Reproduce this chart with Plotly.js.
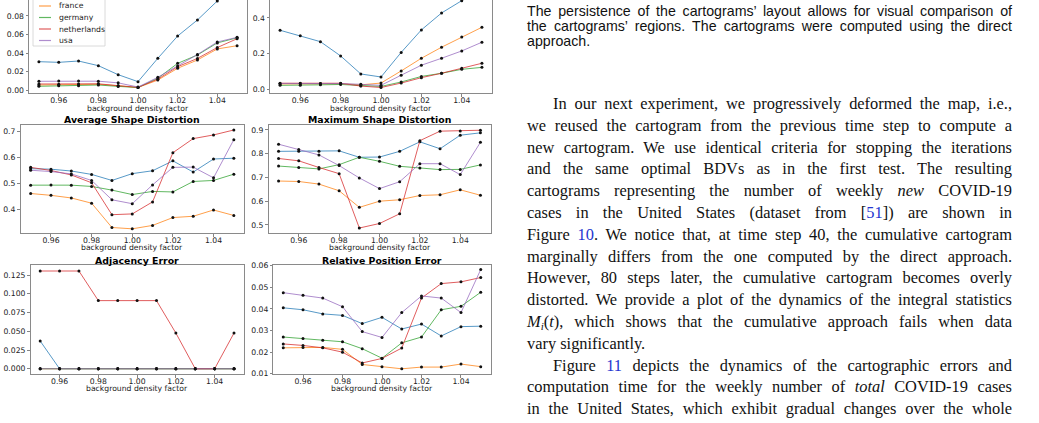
<!DOCTYPE html>
<html><head><meta charset="utf-8">
<script src="https://cdn.plot.ly/plotly-3.0.1.min.js"></script>
<style>
html,body{margin:0;padding:0;background:#fff;}
body{width:1039px;height:423px;overflow:hidden;position:relative;}
#plot{position:absolute;left:0;top:-30px;width:500px;height:453px;}
.cap{position:absolute;left:527px;width:485px;font-family:"Liberation Sans",Arial,sans-serif;font-size:14.2px;line-height:15px;height:15px;color:#111;overflow:visible;}
.bd{position:absolute;left:527px;width:485px;font-family:"Liberation Serif","Times New Roman",serif;font-size:16.4px;line-height:20px;height:20px;color:#111;overflow:visible;}
.j{text-align:justify;text-align-last:justify;}
.ind{left:553px;width:459px;}
.ref{color:#2536d0;}
</style></head>
<body>
<div id="plot"></div>
<div id="text"></div>
<script>
// ---------------- data ----------------
const bdf = [0.95, 0.96, 0.97, 0.98, 0.99, 1.00, 1.01, 1.02, 1.03, 1.04, 1.05];
const seriesNames = ['china', 'france', 'germany', 'netherlands', 'usa'];
const seriesColors = ['rgba(31,119,180,0.75)', 'rgba(255,127,14,0.75)', 'rgba(44,160,44,0.75)', 'rgba(214,39,40,0.75)', 'rgba(148,103,189,0.75)'];
const panelTitles = ['', '', 'Average Shape Distortion', 'Maximum Shape Distortion', 'Adjacency Error', 'Relative Position Error'];
const xLabel = 'background density factor';

// panel 1 (top left)
const p1_china       = [0.0308, 0.0301, 0.0315, 0.0265, 0.0168, 0.0093, 0.0344, 0.0584, 0.0757, 0.0961, 0.1150];
const p1_france      = [0.0057, 0.0058, 0.0060, 0.0065, 0.0048, 0.0030, 0.0110, 0.0237, 0.0326, 0.0445, 0.0480];
const p1_germany     = [0.0043, 0.0048, 0.0050, 0.0057, 0.0042, 0.0030, 0.0130, 0.0290, 0.0380, 0.0510, 0.0565];
const p1_netherlands = [0.0068, 0.0066, 0.0068, 0.0070, 0.0050, 0.0032, 0.0120, 0.0254, 0.0343, 0.0460, 0.0555];
const p1_usa         = [0.0097, 0.0100, 0.0100, 0.0098, 0.0080, 0.0035, 0.0140, 0.0262, 0.0385, 0.0520, 0.0570];

// panel 2 (top right)
const p2_china       = [0.331, 0.301, 0.267, 0.187, 0.086, 0.069, 0.207, 0.333, 0.428, 0.497, 0.570];
const p2_france      = [0.030, 0.031, 0.030, 0.031, 0.025, 0.035, 0.103, 0.174, 0.236, 0.293, 0.348];
const p2_germany     = [0.022, 0.022, 0.025, 0.027, 0.020, 0.016, 0.041, 0.072, 0.090, 0.112, 0.123];
const p2_netherlands = [0.034, 0.034, 0.033, 0.034, 0.018, 0.010, 0.035, 0.065, 0.090, 0.118, 0.146];
const p2_usa         = [0.033, 0.033, 0.033, 0.032, 0.028, 0.022, 0.079, 0.135, 0.174, 0.215, 0.264];

// panel 3 Average Shape Distortion
const p3_china       = [0.557, 0.555, 0.548, 0.535, 0.512, 0.538, 0.549, 0.587, 0.544, 0.594, 0.597];
const p3_france      = [0.462, 0.455, 0.445, 0.425, 0.332, 0.327, 0.340, 0.370, 0.375, 0.399, 0.378];
const p3_germany     = [0.494, 0.495, 0.494, 0.489, 0.475, 0.458, 0.470, 0.468, 0.508, 0.512, 0.536];
const p3_netherlands = [0.562, 0.550, 0.533, 0.503, 0.381, 0.384, 0.430, 0.618, 0.672, 0.686, 0.705];
const p3_usa         = [0.551, 0.546, 0.537, 0.512, 0.438, 0.423, 0.495, 0.562, 0.563, 0.522, 0.668];

// panel 4 Maximum Shape Distortion
const p4_china       = [0.810, 0.810, 0.810, 0.812, 0.785, 0.786, 0.810, 0.850, 0.821, 0.878, 0.888];
const p4_france      = [0.685, 0.683, 0.672, 0.644, 0.574, 0.600, 0.606, 0.624, 0.627, 0.648, 0.625];
const p4_germany     = [0.748, 0.742, 0.736, 0.754, 0.785, 0.768, 0.747, 0.740, 0.733, 0.734, 0.753];
const p4_netherlands = [0.780, 0.770, 0.742, 0.716, 0.487, 0.506, 0.547, 0.855, 0.895, 0.896, 0.899];
const p4_usa         = [0.840, 0.818, 0.795, 0.750, 0.698, 0.653, 0.682, 0.758, 0.758, 0.712, 0.848];

// panel 5 Adjacency Error
const p5_china       = [0.037, 0, 0, 0, 0, 0, 0, 0, 0, 0, 0];
const p5_france      = [0, 0, 0, 0, 0, 0, 0, 0, 0, 0, 0];
const p5_germany     = [0, 0, 0, 0, 0, 0, 0, 0, 0, 0, 0];
const p5_netherlands = [0.1304, 0.1304, 0.1304, 0.0909, 0.0909, 0.0909, 0.0909, 0.0476, 0, 0, 0.0476];
const p5_usa         = [0, 0, 0, 0, 0, 0, 0, 0, 0, 0, 0];

// panel 6 Relative Position Error
const p6_china       = [0.0405, 0.0396, 0.0377, 0.0370, 0.0332, 0.0361, 0.0307, 0.0330, 0.0275, 0.0318, 0.0320];
const p6_france      = [0.0220, 0.0221, 0.0222, 0.0213, 0.0143, 0.0133, 0.0123, 0.0131, 0.0131, 0.0145, 0.0133];
const p6_germany     = [0.0270, 0.0263, 0.0255, 0.0248, 0.0216, 0.0172, 0.0243, 0.0270, 0.0396, 0.0412, 0.0477];
const p6_netherlands = [0.0238, 0.0231, 0.0220, 0.0200, 0.0150, 0.0171, 0.0219, 0.0450, 0.0517, 0.0525, 0.0545];
const p6_usa         = [0.0475, 0.0463, 0.0450, 0.0410, 0.0295, 0.0268, 0.0383, 0.0460, 0.0450, 0.0383, 0.0582];

const yTickVals = [
  [0.00, 0.02, 0.04, 0.06, 0.08],
  [0.0, 0.2, 0.4],
  [0.4, 0.5, 0.6, 0.7],
  [0.5, 0.6, 0.7, 0.8, 0.9],
  [0.000, 0.025, 0.050, 0.075, 0.100, 0.125],
  [0.01, 0.02, 0.03, 0.04, 0.05, 0.06]
];
const yTickFormats = ['.2f', '.1f', '.1f', '.1f', '.3f', '.2f'];
const xTickVals = [0.96, 0.98, 1.00, 1.02, 1.04];

const panels = [
  [p1_china, p1_france, p1_germany, p1_netherlands, p1_usa],
  [p2_china, p2_france, p2_germany, p2_netherlands, p2_usa],
  [p3_china, p3_france, p3_germany, p3_netherlands, p3_usa],
  [p4_china, p4_france, p4_germany, p4_netherlands, p4_usa],
  [p5_china, p5_france, p5_germany, p5_netherlands, p5_usa],
  [p6_china, p6_france, p6_germany, p6_netherlands, p6_usa]
];

// ---------------- layout geometry (pixels) ----------------
const W = 500, H = 453, OFF = 30;
const boxes = [
  {l: 29, r: 247, t: -20, b: 93, yr: [-0.0029, 0.1187]},
  {l: 270, r: 492, t: -20, b: 93, yr: [-0.0208, 0.613]},
  {l: 20.5, r: 244, t: 125, b: 233, yr: [0.311, 0.724]},
  {l: 268.5, r: 490.5, t: 125, b: 233, yr: [0.466, 0.921]},
  {l: 30.5, r: 243.7, t: 265, b: 374, yr: [-0.0070, 0.1384]},
  {l: 273.4, r: 490.6, t: 265, b: 374, yr: [0.0099, 0.0603]}
];
const titleY = [null, null, 119, 119, 260, 260];
const xlabY = [108, 108, 247.5, 247.5, 388.5, 388.5];
const px = x => x / W;
const py = y => 1 - (y + OFF) / H;

const FONT = 'DejaVu Sans, Arial, sans-serif';
const traces = [];
const layout = {
  width: W, height: H,
  margin: {l: 0, r: 0, t: 0, b: 0},
  paper_bgcolor: '#fff', plot_bgcolor: '#fff',
  showlegend: false,
  font: {family: FONT, size: 7.7, color: '#222'},
  annotations: [], shapes: []
};

panels.forEach((series, p) => {
  const suf = p === 0 ? '' : String(p + 1);
  const b = boxes[p];
  series.forEach((vals, s) => {
    traces.push({
      x: bdf, y: vals, type: 'scatter', mode: 'lines+markers',
      xaxis: 'x' + suf, yaxis: 'y' + suf,
      name: seriesNames[s],
      line: {color: seriesColors[s], width: 1},
      marker: {color: '#111', size: 3},
      cliponaxis: true
    });
  });
  const axCommon = {
    showgrid: false, zeroline: false, showline: true, mirror: true,
    linecolor: '#8a8a8a', linewidth: 1, ticks: 'outside', ticklen: 2.5,
    tickcolor: '#666', tickwidth: 0.8,
    tickfont: {family: FONT, size: 7.7, color: '#222'}
  };
  layout['xaxis' + suf] = Object.assign({}, axCommon, {
    domain: [px(b.l), px(b.r)], range: [0.945, 1.055],
    anchor: 'y' + suf, tickvals: xTickVals, tickformat: '.2f',
    ticklabelstandoff: -3
  });
  layout['yaxis' + suf] = Object.assign({}, axCommon, {
    domain: [py(b.b), py(b.t)], range: b.yr,
    anchor: 'x' + suf, tickvals: yTickVals[p], tickformat: yTickFormats[p]
  });
  if (panelTitles[p]) {
    layout.annotations.push({
      xref: 'paper', yref: 'paper', x: px((b.l + b.r) / 2), y: py(titleY[p]),
      xanchor: 'center', yanchor: 'middle', showarrow: false,
      text: panelTitles[p], font: {family: FONT, size: 9.4, weight: 'bold', color: '#000'}
    });
  }
  layout.annotations.push({
    xref: 'paper', yref: 'paper', x: px((b.l + b.r) / 2), y: py(xlabY[p]),
    xanchor: 'center', yanchor: 'middle', showarrow: false,
    text: xLabel, font: {family: FONT, size: 7.7, color: '#222'}
  });
});

// custom legend inside panel 1 (upper left); its first entry lies above the visible crop
const legTop = -12, legBot = 46, legL = 33, legR = 105, legStep = 11.5, legFirst = -5.5;
layout.shapes.push({
  type: 'rect', xref: 'paper', yref: 'paper',
  x0: px(legL), x1: px(legR), y0: py(legBot), y1: py(legTop),
  line: {color: '#d0d0d0', width: 0.8}, fillcolor: 'rgba(255,255,255,0.85)', layer: 'above'
});
seriesNames.forEach((n, s) => {
  const yy = legFirst + s * legStep;
  if (yy < 0) return; // outside the visible page crop
  layout.shapes.push({
    type: 'line', xref: 'paper', yref: 'paper',
    x0: px(39), x1: px(51), y0: py(yy), y1: py(yy),
    line: {color: seriesColors[s], width: 1.2}, layer: 'above'
  });
  layout.annotations.push({
    xref: 'paper', yref: 'paper', x: px(57), y: py(yy),
    xanchor: 'left', yanchor: 'middle', showarrow: false,
    text: n, font: {family: FONT, size: 7.7, color: '#222'}
  });
});

Plotly.newPlot('plot', traces, layout, {staticPlot: true, displayModeBar: false});

// ---------------- right-hand text ----------------
const capLines = [
  ['The persistence of the cartograms’ layout allows for visual comparison of', true],
  ['the cartograms’ regions. The cartograms were computed using the direct', true],
  ['approach.', false]
];
const capY = [11, 26, 41];
const bodyLines = [
  ['In our next experiment, we progressively deformed the map, i.e.,', true, true],
  ['we reused the cartogram from the previous time step to compute a', true, false],
  ['new cartogram. We use identical criteria for stopping the iterations', true, false],
  ['and the same optimal BDVs as in the first test. The resulting', true, false],
  ['cartograms representing the number of weekly <i>new</i> COVID-19', true, false],
  ['cases in the United States (dataset from [<span class="ref">51</span>]) are shown in', true, false],
  ['Figure <span class="ref">10</span>. We notice that, at time step 40, the cumulative cartogram', true, false],
  ['marginally differs from the one computed by the direct approach.', true, false],
  ['However, 80 steps later, the cumulative cartogram becomes overly', true, false],
  ['distorted. We provide a plot of the dynamics of the integral statistics', true, false],
  ['<i>M<sub style="font-size:11px;vertical-align:-3px">i</sub></i>(<i>t</i>), which shows that the cumulative approach fails when data', true, false],
  ['vary significantly.', false, false],
  ['Figure <span class="ref">11</span> depicts the dynamics of the cartographic errors and', true, true],
  ['computation time for the weekly number of <i>total</i> COVID-19 cases', true, false],
  ['in the United States, which exhibit gradual changes over the whole', true, false]
];
const bodyY0 = 104, bodyStep = 21.8;
let html = '';
capLines.forEach((c, i) => {
  html += '<div class="cap' + (c[1] ? ' j' : '') + '" style="top:' + (capY[i] - 7.5) + 'px">' + c[0] + '</div>';
});
bodyLines.forEach((c, i) => {
  const y = bodyY0 + i * bodyStep;
  html += '<div class="bd' + (c[1] ? ' j' : '') + (c[2] ? ' ind' : '') + '" style="top:' + (y - 10) + 'px">' + c[0] + '</div>';
});
document.getElementById('text').innerHTML = html;
</script>
</body></html>
